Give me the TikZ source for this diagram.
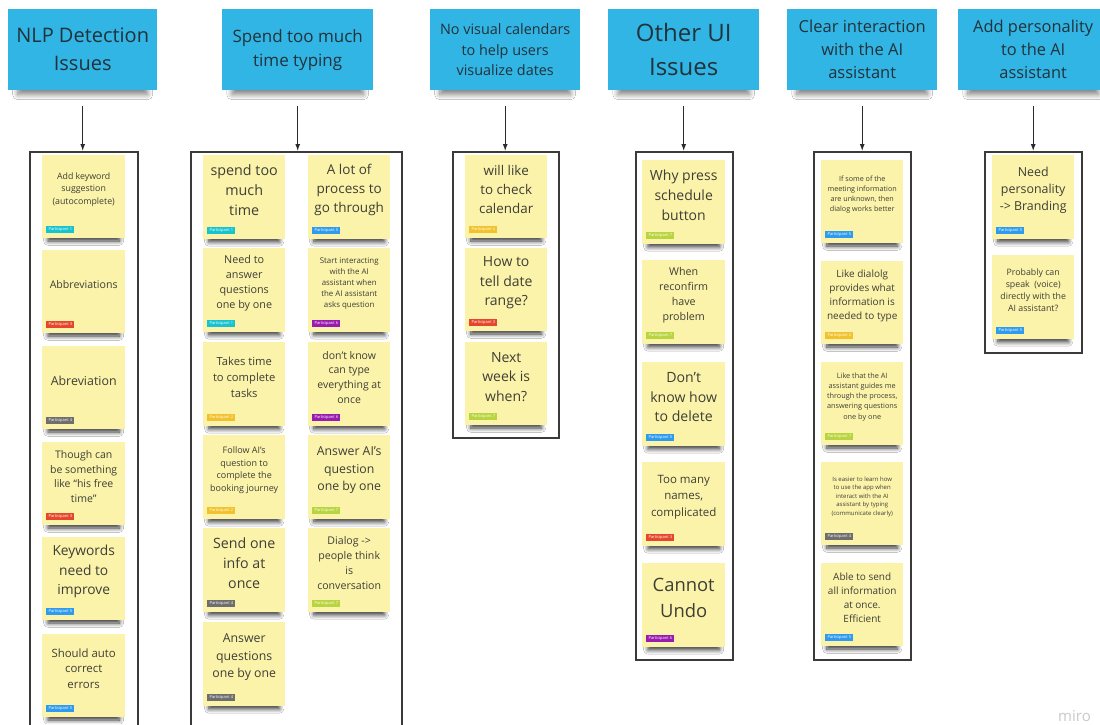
\documentclass[tikz,border=0pt]{standalone}
\usepackage{fontspec}
\setmainfont{Open Sans}
\usetikzlibrary{shadows.blur, arrows.meta}

\definecolor{headerblue}{HTML}{31B5E4}
\definecolor{headertext}{HTML}{22323A}
\definecolor{noteyellow}{HTML}{FBF3AA}
\definecolor{notetextc}{HTML}{3E3E36}
\definecolor{boxgray}{HTML}{3A3A3A}
\definecolor{arrowgray}{HTML}{2B2B2B}
\definecolor{tagcyan}{HTML}{17C3CF}
\definecolor{tagred}{HTML}{E5472C}
\definecolor{taggray}{HTML}{6E6E6E}
\definecolor{tagblue}{HTML}{2E9BEF}
\definecolor{tagyellow}{HTML}{F2C12E}
\definecolor{tagpurple}{HTML}{9A1BB0}
\definecolor{taglime}{HTML}{B8D43E}
\definecolor{watermark}{HTML}{C9C9C9}

% font size with a 1.4 line pitch
\newcommand\notefont[1]{\fontsize{#1}{\fpeval{1.4*#1}}\selectfont}

\tikzset{
  note/.style={anchor=north west, fill=noteyellow, inner sep=0pt,
    blur shadow={shadow xshift=0pt, shadow yshift=-10pt, shadow scale=0.86,
      shadow blur radius=5pt, shadow blur steps=8, shadow opacity=80}},
  notetext/.style={align=center, text=notetextc, inner sep=0pt},
  tag/.style={anchor=south west, text=white, inner xsep=2.4pt, inner ysep=0pt,
    minimum height=7.5pt, font=\fontsize{4}{4}\selectfont},
  header/.style={anchor=north west, fill=headerblue, align=center, text=headertext, inner sep=0pt,
    minimum height=81,
    blur shadow={shadow xshift=0pt, shadow yshift=-11pt, shadow scale=0.87,
      shadow blur radius=6pt, shadow blur steps=8, shadow opacity=50}},
  container/.style={anchor=north west, draw=boxgray, line width=1.6pt, inner sep=0pt},
  flow/.style={draw=arrowgray, line width=1.1pt, -{Latex[length=7pt,width=5pt]}},
}

% sticky note: name, x, y, width, height, font size, text, tag colour, participant
\newcommand\sticky[9]{%
  \node[note, minimum width=#4, minimum height=#5] (#1) at (#2,#3) {};
  \node[notetext, font=\notefont{#6}] (#1-txt) at ([yshift=7pt]#1.center) {#7};
  \node[tag, fill=#8] (#1-tag) at ([xshift=4pt,yshift=5pt]#1.south west) {Participant #9};
}

\begin{document}
\begin{tikzpicture}[x=1pt, y=-1pt]
\useasboundingbox (0,0) rectangle (1100,724);
\clip (0,0) rectangle (1100,724);
\fill[white] (0,0) rectangle (1100,724);

% column headers
\node[header, minimum width=149, font=\notefont{20}] (h1) at (8,9) {NLP Detection\\Issues};
\node[header, minimum width=151, font=\notefont{17}] (h2) at (222,9) {Spend too much\\time typing};
\node[header, minimum width=150, font=\notefont{14.4}] (h3) at (430,9) {No visual calendars\\to help users\\visualize dates};
\node[header, minimum width=151, font=\notefont{24}] (h4) at (608,9) {Other UI\\Issues};
\node[header, minimum width=150, font=\notefont{16.5}] (h5) at (787,9) {Clear interaction\\with the AI\\assistant};
\node[header, minimum width=150, font=\notefont{16.4}] (h6) at (958,9) {Add personality\\to the AI\\assistant};

% group frames
\node[container, minimum width=108, minimum height=590] (box1) at (29,151) {};
\node[container, minimum width=211, minimum height=590] (box2) at (190,151) {};
\node[container, minimum width=106, minimum height=286] (box3) at (452,151) {};
\node[container, minimum width=97, minimum height=508] (box4) at (635,151) {};
\node[container, minimum width=97, minimum height=508] (box5) at (813,151) {};
\node[container, minimum width=97, minimum height=201] (box6) at (984,151) {};

% arrows from headers to frames
\draw[flow] ([yshift=-16pt]h1.south) -- (h1.south |- box1.north);
\draw[flow] ([yshift=-16pt]h2.south) -- (h2.south |- box2.north);
\draw[flow] ([yshift=-16pt]h3.south) -- (h3.south |- box3.north);
\draw[flow] ([yshift=-16pt]h4.south) -- (h4.south |- box4.north);
\draw[flow] ([yshift=-16pt]h5.south) -- (h5.south |- box5.north);
\draw[flow] ([yshift=-16pt]h6.south) -- (h6.south |- box6.north);

% NLP detection issues
\sticky{a1}{42}{155}{83}{83}{8.8}{Add keyword\\suggestion\\(autocomplete)}{tagcyan}{1}
\sticky{a2}{42}{250}{83}{83}{10.6}{Abbreviations}{tagred}{3}
\sticky{a3}{42}{346}{83}{83}{12.4}{Abreviation}{taggray}{4}
\sticky{a4}{42}{442}{83}{83}{10.5}{Though can\\be something\\like “his free\\time”}{tagred}{3}
\sticky{a5}{42}{537}{83}{83}{13.8}{Keywords\\need to\\improve}{tagblue}{5}
\sticky{a6}{42}{634}{83}{83}{11.4}{Should auto\\correct\\errors}{tagblue}{5}

% time spent typing, left column
\sticky{b1}{203}{155}{82}{84}{14.3}{spend too\\much\\time}{tagcyan}{1}
\sticky{b2}{203}{248}{82}{84}{10.8}{Need to\\answer\\questions\\one by one}{tagcyan}{1}
\sticky{b3}{203}{342}{82}{84}{11.2}{Takes time\\to complete\\tasks}{tagyellow}{2}
\sticky{b4}{203}{435}{82}{84}{9}{Follow AI's\\question to\\complete the\\booking journey}{tagyellow}{2}
\sticky{b5}{203}{528}{82}{84}{14.2}{Send one\\info at\\once}{taggray}{4}
\sticky{b6}{203}{622}{82}{84}{12.3}{Answer\\questions\\one by one}{taggray}{4}
% time spent typing, right column
\sticky{c1}{308}{155}{82}{84}{13.5}{A lot of\\process to\\go through}{tagblue}{5}
\sticky{c2}{308}{248}{82}{84}{7.9}{Start interacting\\with the AI\\assistant when\\the AI assistant\\asks question}{tagpurple}{6}
\sticky{c3}{308}{342}{82}{84}{10.5}{don't know\\can type\\everything at\\once}{tagpurple}{6}
\sticky{c4}{308}{435}{82}{84}{12.3}{Answer AI's\\question\\one by one}{taglime}{7}
\sticky{c5}{308}{528}{82}{84}{10.6}{Dialog ->\\people think\\is\\conversation}{taglime}{7}

% calendars
\sticky{d1}{465}{155}{82}{83}{13.4}{will like\\to check\\calendar}{tagyellow}{2}
\sticky{d2}{465}{248}{82}{83}{14}{How to\\tell date\\range?}{tagred}{3}
\sticky{d3}{465}{342}{82}{83}{14}{Next\\week is\\when?}{taglime}{7}

% other UI issues
\sticky{e1}{642}{160}{83}{84}{14}{Why press\\schedule\\button}{taglime}{7}
\sticky{e2}{642}{260}{83}{84}{10.7}{When\\reconfirm\\have\\problem}{taglime}{7}
\sticky{e3}{642}{362}{83}{84}{14.1}{Don’t\\know how\\to delete}{tagblue}{5}
\sticky{e4}{642}{462}{83}{84}{11.5}{Too many\\names,\\complicated}{tagred}{3}
\sticky{e5}{642}{563}{83}{84}{18.4}{Cannot\\Undo}{tagpurple}{6}

% interaction with the assistant
\sticky{f1}{821}{160}{82}{83}{7.2}{If some of the\\meeting information\\are unknown, then\\dialog works better}{tagblue}{5}
\sticky{f2}{821}{261}{82}{83}{10}{Like dialolg\\provides what\\information is\\needed to type}{tagyellow}{2}
\sticky{f3}{821}{362}{82}{83}{7.3}{Like that the AI\\assistant guides me\\through the process,\\answering questions\\one by one}{taglime}{7}
\sticky{f4}{821}{462}{82}{83}{6}{Is easier to learn how\\to use the app when\\interact with the AI\\assistant by typing\\(communicate clearly)}{taggray}{4}
\sticky{f5}{821}{563}{82}{83}{10}{Able to send\\all information\\at once.\\Efficient}{tagblue}{5}

% personality
\sticky{g1}{992}{155}{82}{84}{12.4}{Need\\personality\\-> Branding}{tagblue}{5}
\sticky{g2}{992}{255}{82}{84}{8.8}{Probably can\\speak~ (voice)\\directly with the\\AI assistant?}{tagblue}{5}

% board watermark
\node[anchor=base west, inner sep=0pt, text=watermark, font=\fontsize{15}{15}\selectfont] (mark) at (1058,721) {miro};
\end{tikzpicture}
\end{document}
